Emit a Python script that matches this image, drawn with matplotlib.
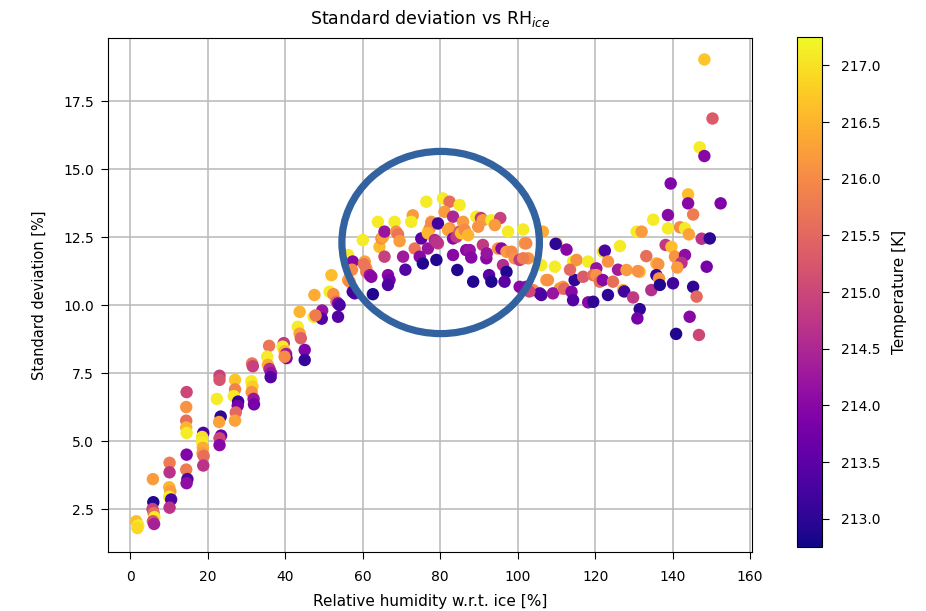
import matplotlib
matplotlib.use("Agg")
import matplotlib.pyplot as plt
from matplotlib.patches import Ellipse
import numpy as np

# RH w.r.t. ice [%], standard deviation [%], temperature [K]
rh = [
    1.5, 2.0, 1.8,
    5.8, 5.9, 5.7, 6.0, 6.2, 5.8, 6.1,
    10.1, 10.1, 10.0, 10.3, 10.0, 10.5, 10.1,
    14.5, 14.4, 14.4, 14.4, 14.5, 14.5, 14.4, 14.7, 14.5,
    18.8, 18.5, 18.5, 18.7, 18.6, 18.9, 18.8,
    23.0, 23.0, 22.3, 23.3, 22.9, 23.4, 23.0, 23.0,
    27.0, 27.0, 26.7, 27.8, 27.7, 27.2, 27.0,
    31.4, 31.6, 31.2, 31.5, 31.3, 31.8, 31.9,
    35.8, 35.3, 35.5, 35.9, 36.3, 36.2,
    39.6, 39.3, 39.8, 40.2, 40.3, 39.8,
    43.7, 43.2, 43.7, 44.0, 45.0, 45.0,
    47.5, 49.5, 47.3, 49.4, 47.8,
    51.9, 51.4, 52.4, 53.2, 53.6, 54.0, 53.6,
    56.2, 57.4, 56.2, 56.6, 57.9, 57.4, 57.2,
    60.0, 60.5, 60.9, 60.9, 61.8, 62.2, 62.6, 60.3,
    63.9, 64.3, 64.8, 65.2, 65.6, 65.6, 66.5, 66.9, 66.5,
    68.2, 68.6, 69.1, 69.5, 70.4, 71.0,
    72.9, 72.5, 73.4, 75.1, 74.7, 75.5,
    76.4, 77.7, 76.8, 77.3, 77.7, 76.8, 76.8, 79.0, 79.4, 78.6, 79.4, 79.0,
    80.7, 82.4, 85.0, 81.1, 83.3, 82.4, 82.0, 83.3, 84.2, 83.3, 84.4,
    85.0, 85.4, 85.9, 86.3,
    89.3, 90.5, 91.0, 89.8, 87.2, 86.7, 87.6, 88.0, 88.5, 91.0, 91.9,
    92.0, 92.6, 93.2,
    93.2, 95.5, 94.1, 94.9, 95.8, 97.1, 98.4, 99.2, 97.5, 96.2, 97.1,
    96.6, 100.5,
    101.4, 101.8, 102.2, 102.7, 101.4, 106.5, 106.1, 100.5, 102.2, 104.0,
    105.7, 106.1, 107.4, 103.0,
    110.0, 109.8, 112.6, 109.6, 107.8, 110.9, 109.1, 111.7, 112.0, 113.9,
    114.3, 114.7, 114.3, 115.2, 113.5, 116.9,
    118.2, 120.3, 119.5, 120.3, 121.2, 118.2, 119.5, 122.0, 122.5, 122.0,
    123.3, 124.6, 123.3, 125.9, 126.4,
    127.2, 127.5, 128.1, 129.8, 130.7, 132.0, 131.5, 131.0, 131.5, 130.9,
    133.2, 134.5, 135.0, 135.8, 136.3, 135.8, 136.5, 136.7,
    139.5, 138.8, 138.8, 141.9, 143.2, 144.2, 138.2, 139.7, 140.6, 143.2,
    142.3, 141.2, 140.1, 144.0, 144.0, 145.3, 145.3, 146.2, 144.4, 140.9,
    146.8,
    147.0, 148.2, 148.2, 150.3, 152.4, 147.5, 149.6, 148.8,
]

std = [
    2.05, 1.9, 1.8,
    3.6, 2.75, 2.5, 2.35, 2.2, 2.05, 1.95,
    4.2, 3.85, 3.3, 3.15, 2.95, 2.85, 2.55,
    6.8, 6.25, 5.75, 5.5, 5.3, 4.5, 3.95, 3.6, 3.45,
    5.3, 5.15, 4.95, 4.75, 4.55, 4.45, 4.1,
    7.4, 7.25, 6.55, 5.9, 5.7, 5.2, 5.1, 4.85,
    7.25, 6.9, 6.65, 6.45, 6.3, 6.05, 5.75,
    7.85, 7.75, 7.2, 7.0, 6.8, 6.55, 6.35,
    8.5, 8.1, 7.8, 7.65, 7.5, 7.35,
    8.6, 8.47, 8.3, 8.2, 8.05, 8.1,
    9.75, 9.2, 8.95, 8.78, 8.35, 7.98,
    10.37, 9.8, 9.57, 9.5, 9.62,
    11.1, 10.49, 10.4, 10.12, 10.06, 10.0, 9.57,
    11.84, 11.6, 10.92, 10.86, 10.43, 10.49, 11.3,
    12.39, 11.6, 11.35, 11.22, 11.1, 11.04, 10.4, 11.5,
    13.06, 12.14, 12.45, 12.5, 12.7, 11.78, 11.1, 10.92, 10.74,
    13.06, 12.7, 12.6, 12.35, 11.78, 11.3,
    13.3, 13.06, 12.08, 12.45, 11.78, 11.53,
    13.8, 13.06, 12.7, 12.82, 13.0, 12.64, 12.08, 11.66, 13.0, 12.39, 12.27, 12.33,
    13.92, 13.8, 13.68, 13.43, 13.25, 12.82, 12.76, 12.45, 12.51, 11.84, 11.29,
    12.7, 12.64, 13.06, 12.76,
    13.25, 13.2, 13.12, 12.88, 12.57, 12.02, 12.02, 11.75, 10.86, 12.21, 11.72,
    11.9, 11.1, 10.86,
    13.12, 13.2, 12.94, 12.08, 12.08, 11.96, 11.96, 11.72, 12.7, 11.47, 11.22,
    10.86, 11.66,
    12.78, 12.27, 12.27, 11.72, 11.72, 12.7, 11.47, 10.67, 10.67, 10.55,
    10.43, 10.37, 10.92, 10.5,
    12.27, 12.25, 12.04, 11.41, 10.92, 10.61, 10.43, 10.67, 10.6, 10.49,
    10.18, 10.92, 11.6, 11.66, 11.3, 11.04,
    11.6, 11.35, 11.1, 11.1, 10.86, 10.1, 10.12, 11.96, 12.0, 10.92,
    11.6, 10.86, 10.37, 11.3, 12.17,
    10.55, 10.5, 11.29, 10.28, 12.7, 12.7, 11.22, 11.25, 9.85, 9.51,
    11.8, 10.55, 13.14, 11.53, 11.5, 11.1, 10.98, 10.74,
    14.47, 13.31, 12.82, 12.86, 12.82, 12.6, 12.21, 12.14, 11.78, 11.84,
    11.55, 11.38, 10.8, 14.07, 13.74, 13.33, 10.67, 10.31, 9.57, 8.94,
    8.9,
    15.8, 15.48, 19.03, 16.86, 13.74, 12.44, 12.45, 11.41,
]

temp = [
    216.6, 217.1, 216.9,
    216.2, 212.9, 214.9, 215.6, 217.1, 215.2, 214.4,
    215.8, 214.7, 216.5, 216.2, 217.1, 213.3, 214.7,
    215.0, 216.1, 215.6, 216.5, 217.1, 213.9, 215.8, 213.3, 214.1,
    213.3, 217.0, 217.1, 216.4, 216.2, 215.6, 214.7,
    214.9, 215.2, 217.1, 213.0, 216.3, 213.6, 215.0, 214.0,
    216.7, 215.9, 217.1, 213.1, 213.8, 215.5, 216.3,
    215.7, 214.9, 217.1, 216.8, 216.1, 214.2, 213.8,
    215.7, 217.1, 216.4, 214.6, 214.2, 213.4,
    214.8, 217.1, 216.5, 214.3, 213.9, 216.0,
    216.5, 217.1, 216.3, 215.4, 213.9, 213.1,
    216.4, 214.2, 217.1, 213.4, 215.8,
    216.6, 217.1, 216.1, 215.6, 214.0, 213.3, 213.4,
    217.1, 214.0, 216.3, 216.0, 213.5, 213.2, 216.0,
    217.1, 216.3, 216.0, 215.8, 214.2, 214.0, 212.9, 215.7,
    217.1, 216.6, 216.0, 216.3, 214.2, 214.9, 214.0, 213.8, 213.3,
    217.1, 216.1, 215.7, 216.2, 214.3, 213.4,
    216.2, 217.1, 215.7, 213.5, 214.0, 212.9,
    217.1, 216.2, 217.0, 216.1, 216.0, 216.5, 214.2, 212.9, 213.2, 214.5, 214.8, 214.7,
    217.1, 215.6, 217.1, 216.2, 214.5, 216.1, 216.3, 214.0, 214.8, 214.0, 212.9,
    215.3, 216.6, 216.2, 216.0,
    217.1, 214.8, 216.2, 216.1, 216.5, 214.0, 214.2, 214.0, 212.9, 214.8, 214.0,
    214.2, 213.5, 212.9,
    217.1, 214.9, 216.2, 216.1, 214.0, 216.2, 216.0, 216.1, 217.1, 214.6, 212.9,
    213.5, 214.8,
    217.1, 216.2, 216.0, 216.1, 215.8, 216.4, 217.1, 214.0, 214.0, 216.0,
    213.5, 213.3, 216.2, 215.0,
    216.2, 213.0, 214.0, 217.1, 216.1, 216.1, 214.2, 216.2, 215.5, 214.0,
    213.4, 213.0, 217.1, 216.1, 215.5, 215.3,
    217.1, 214.2, 215.6, 216.1, 215.6, 214.0, 213.0, 217.1, 213.3, 214.0,
    216.1, 215.6, 213.0, 214.3, 217.1,
    216.5, 213.2, 216.2, 214.8, 217.1, 216.2, 216.6, 216.1, 213.0, 213.8,
    215.6, 214.6, 217.1, 216.5, 216.1, 213.1, 216.1, 212.9,
    213.9, 214.0, 217.1, 216.0, 217.1, 216.3, 214.8, 216.6, 216.1, 214.1,
    214.7, 216.2, 213.2, 216.6, 214.0, 215.8, 213.0, 215.5, 214.0, 212.9,
    215.0,
    217.1, 214.0, 216.7, 215.3, 213.9, 214.7, 213.0, 213.8,
]

t_min, t_max = 212.75, 217.25
cbar_ticks = [213.0, 213.5, 214.0, 214.5, 215.0, 215.5, 216.0, 216.5, 217.0]

fig = plt.figure(figsize=(9.26, 6.11), dpi=100)
ax = fig.add_axes([108 / 926, 1 - 552 / 611, 644 / 926, 514 / 611])
cax = fig.add_axes([797 / 926, 1 - 547 / 611, 25 / 926, 510 / 611])

sc = ax.scatter(rh, std, c=temp, cmap='plasma', vmin=t_min, vmax=t_max,
                s=80, linewidths=0, zorder=3)

ax.set_xlim(-5.8, 160.5)
ax.set_ylim(0.92, 19.82)
ax.set_xticks([0, 20, 40, 60, 80, 100, 120, 140, 160])
ax.set_yticks([2.5, 5.0, 7.5, 10.0, 12.5, 15.0, 17.5])
ax.grid(True, color='#b8b8b8', linewidth=1.1, zorder=0)
ax.set_axisbelow(True)
ax.tick_params(labelsize=10, length=5)
ax.tick_params(axis='x', pad=8)
ax.tick_params(axis='y', pad=5)
ax.set_xlabel('Relative humidity w.r.t. ice [%]', fontsize=11, labelpad=7)
ax.set_ylabel('Standard deviation [%]', fontsize=10.5, labelpad=12)
ax.set_title('Standard deviation vs RH$_{ice}$', fontsize=12.5, pad=10)

# highlight ring around the hump
ring = Ellipse((80.1, 12.3), 51.0, 6.7, fill=False, edgecolor='#3263a0',
               linewidth=5.2, zorder=4)
ax.add_patch(ring)

cb = fig.colorbar(sc, cax=cax, ticks=cbar_ticks)
cb.ax.set_yticklabels(['%.1f' % t for t in cbar_ticks])
cb.ax.tick_params(labelsize=10, length=5, pad=9)
cb.set_label('Temperature [K]', fontsize=11, labelpad=8)

plt.savefig('out.png', dpi=100)
